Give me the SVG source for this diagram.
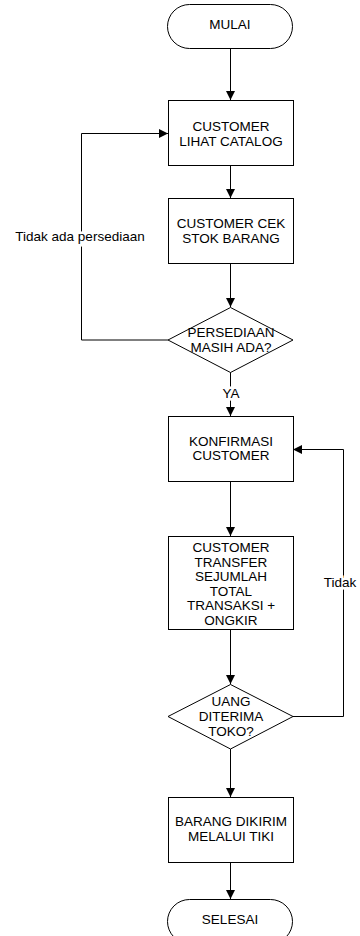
<svg xmlns="http://www.w3.org/2000/svg" width="360" height="936" viewBox="0 0 360 936">
<defs>
<marker id="arr" markerUnits="userSpaceOnUse" markerWidth="9" markerHeight="9" viewBox="0 0 9 9" refX="9" refY="4.5" orient="auto">
<path d="M0,0 L9,4.5 L0,9 Z" fill="#000"/>
</marker>
<style>
.s{fill:#fff;stroke:#000;stroke-width:1}
.t{font-family:"Liberation Sans",Arial,sans-serif;font-size:13.5px;fill:#000;text-anchor:middle}
.c{fill:none;stroke:#000;stroke-width:1}
.lb{font-family:"Liberation Sans",Arial,sans-serif;font-size:13.5px;fill:#000;text-anchor:middle;stroke:#fff;stroke-width:5;paint-order:stroke}
</style>
</defs>
<rect width="360" height="936" fill="#fff"/>
<g id="connectors">
<path class="c" d="M230.5,48 V100" marker-end="url(#arr)"/>
<path class="c" d="M230.5,165 V198" marker-end="url(#arr)"/>
<path class="c" d="M230.5,263 V307" marker-end="url(#arr)"/>
<path class="c" d="M230.5,372 V416" marker-end="url(#arr)"/>
<path class="c" d="M230.5,481 V536" marker-end="url(#arr)"/>
<path class="c" d="M230.5,629 V684" marker-end="url(#arr)"/>
<path class="c" d="M230.5,749 V797" marker-end="url(#arr)"/>
<path class="c" d="M230.5,862 V899" marker-end="url(#arr)"/>
<path class="c" d="M168,340 H81.5 V133.5 H168" marker-end="url(#arr)"/>
<path class="c" d="M293,716.5 H343.5 V449.5 H293" marker-end="url(#arr)"/>
<text class="lb" x="80" y="241">Tidak ada persediaan</text>
<text class="lb" x="231" y="398">YA</text>
<text class="lb" x="340" y="587">Tidak</text>
</g>
<g id="mulai">
<rect class="s" x="167.5" y="4.5" width="125" height="44" rx="22" ry="22"/>
<text class="t" x="230" y="29">MULAI</text>
</g>
<g id="lihat-catalog">
<rect class="s" x="168.5" y="100.5" width="125" height="65"/>
<text class="t" x="231" y="131">CUSTOMER</text>
<text class="t" x="231" y="145.5">LIHAT CATALOG</text>
</g>
<g id="cek-stok">
<rect class="s" x="168.5" y="198.5" width="125" height="65"/>
<text class="t" x="231" y="228">CUSTOMER CEK</text>
<text class="t" x="231" y="243">STOK BARANG</text>
</g>
<g id="persediaan">
<path class="s" d="M230.5,307.5 L293,340 L230.5,372.5 L168,340 Z"/>
<text class="t" x="231" y="336.5">PERSEDIAAN</text>
<text class="t" x="231" y="352">MASIH ADA?</text>
</g>
<g id="konfirmasi">
<rect class="s" x="168.5" y="416.5" width="125" height="65"/>
<text class="t" x="231" y="446">KONFIRMASI</text>
<text class="t" x="231" y="460">CUSTOMER</text>
</g>
<g id="transfer">
<rect class="s" x="168.5" y="536.5" width="125" height="93"/>
<text class="t" x="231" y="552">CUSTOMER</text>
<text class="t" x="231" y="566.5">TRANSFER</text>
<text class="t" x="231" y="581">SEJUMLAH</text>
<text class="t" x="231" y="595.5">TOTAL</text>
<text class="t" x="231" y="610">TRANSAKSI +</text>
<text class="t" x="231" y="624.5">ONGKIR</text>
</g>
<g id="uang-diterima">
<path class="s" d="M230.5,684.5 L293,716.5 L230.5,749 L168,716.5 Z"/>
<text class="t" x="231" y="706">UANG</text>
<text class="t" x="231" y="721">DITERIMA</text>
<text class="t" x="231" y="735.5">TOKO?</text>
</g>
<g id="dikirim">
<rect class="s" x="168.5" y="797.5" width="125" height="65"/>
<text class="t" x="231" y="826">BARANG DIKIRIM</text>
<text class="t" x="231" y="841">MELALUI TIKI</text>
</g>
<g id="selesai">
<rect class="s" x="167.5" y="899.5" width="125" height="44" rx="22" ry="22"/>
<text class="t" x="230" y="924">SELESAI</text>
</g>
</svg>
